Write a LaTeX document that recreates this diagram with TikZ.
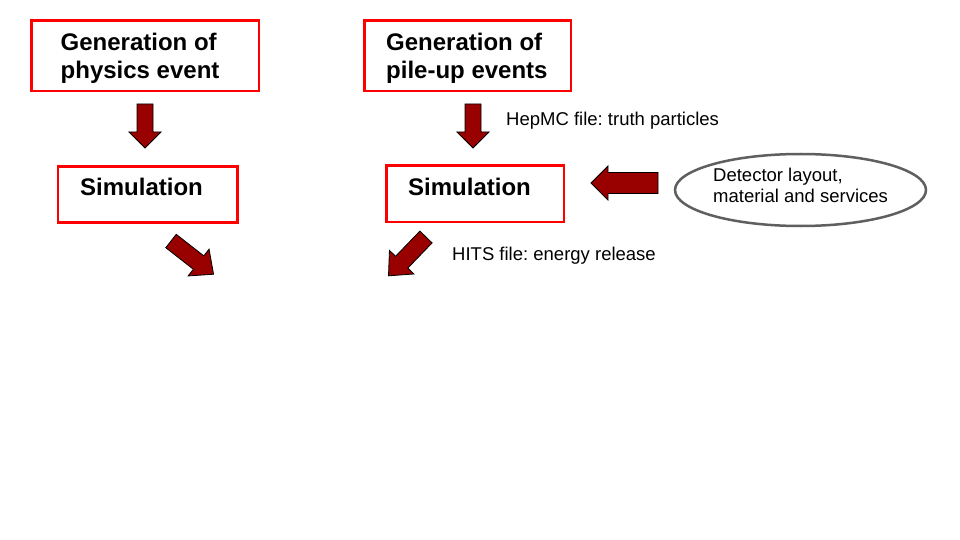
\documentclass[tikz,border=0pt]{standalone}
\usepackage{fontspec}
\setmainfont{Liberation Sans}
\usetikzlibrary{shapes.geometric}
\definecolor{boxred}{RGB}{255,0,0}
\definecolor{arrowred}{RGB}{153,0,0}
\definecolor{ellgray}{RGB}{95,95,95}
\frenchspacing
\tikzset{
  redbox/.style={draw=boxred, line width=2.5pt, minimum width=#1, anchor=north west, inner sep=0pt},
  boldtxt/.style={font=\fontsize{24}{29}\selectfont\bfseries, anchor=base west, inner sep=0pt},
  smalltxt/.style={font=\fontsize{18.5}{21}\selectfont, anchor=base west, inner sep=0pt},
  arrowfill/.style={fill=arrowred, draw=black, line width=0.8pt, line join=miter},
  pics/barrow/.style args={#1,#2,#3,#4}{code={
    \draw[arrowfill] (0,-#2/2) -- (#1-#4,-#2/2) -- (#1-#4,-#3/2) -- (#1,0)
      -- (#1-#4,#3/2) -- (#1-#4,#2/2) -- (0,#2/2) -- cycle;
  }}
}
\begin{document}
\begin{tikzpicture}[x=1pt,y=-1pt]
\useasboundingbox[fill=white] (0,0) rectangle (960,540);

% boxes
\node[redbox=227.5pt, minimum height=70.5pt] (gen1) at (30.25,19.25) {};
\node[redbox=206.5pt, minimum height=70.5pt] (gen2) at (363.25,19.25) {};
\node[redbox=179.5pt, minimum height=56pt] (sim1) at (56.75,165.25) {};
\node[redbox=177.5pt, minimum height=56.5pt] (sim2) at (385.25,164.25) {};
\node[ellipse, draw=ellgray, line width=2.5pt, minimum width=251pt, minimum height=72pt, inner sep=0pt] (det) at (800.5,190) {};

% box texts
\node[boldtxt] (gen1a) at (60.5,51) {Generation of};
\node[boldtxt] (gen1b) at (60.5,79) {physics event};
\node[boldtxt] (gen2a) at (386,51) {Generation of};
\node[boldtxt] (gen2b) at (386,79) {pile-up events};
\node[boldtxt] (sim1t) at (80,196) {Simulation};
\node[boldtxt] (sim2t) at (408,196) {Simulation};
\node[smalltxt] (deta) at (713,181.5) {Detector layout,};
\node[smalltxt] (detb) at (713,202.5) {material and services};

% labels
\node[smalltxt] (hepmc) at (506,126) {HepMC file: truth particles};
\node[smalltxt] (hits) at (452,260) {HITS file: energy release};

% block arrows
\coordinate (a1) at (145,104);
\coordinate (a2) at (473,104);
\coordinate (a3) at (658,183);
\coordinate (a4) at (171,241);
\coordinate (a5) at (426,237);
\pic[rotate=-90] at (a1) {barrow={44,16,32,16}};
\pic[rotate=-90] at (a2) {barrow={44,16,32,16}};
\pic[rotate=180] at (a3) {barrow={67,21,34,17}};
\pic[rotate=-38] at (a4) {barrow={54,17,34,19}};
\pic[rotate=-134] at (a5) {barrow={54,17,34,19}};
\end{tikzpicture}
\end{document}
